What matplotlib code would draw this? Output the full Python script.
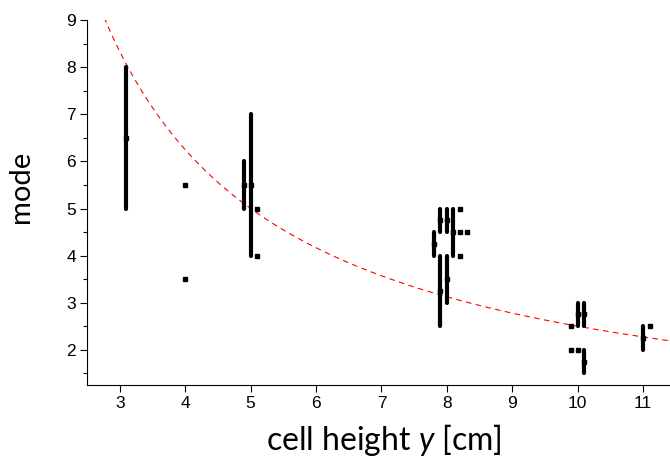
import numpy as np
import matplotlib.pyplot as plt

plt.rcParams['font.family'] = ['Liberation Sans', 'DejaVu Sans']
plt.rcParams['mathtext.fontset'] = 'custom'
plt.rcParams['mathtext.rm'] = 'Lato'
plt.rcParams['mathtext.it'] = 'Lato:italic'

# measured ranges: centre and half-width
bar_x = [3.1, 4.9, 5.0, 7.8, 7.9, 7.9, 8.0, 8.0, 8.1, 10.0, 10.1, 10.1, 11.0]
bar_y = [6.5, 5.5, 5.5, 4.25, 4.75, 3.25, 4.75, 3.5, 4.5, 2.75, 2.75, 1.75, 2.25]
bar_err = [1.5, 0.5, 1.5, 0.25, 0.25, 0.75, 0.25, 0.5, 0.5, 0.25, 0.25, 0.25, 0.25]

# single observations
pt_x = [4.0, 4.0, 5.1, 5.1, 8.2, 8.2, 8.2, 8.3, 9.9, 9.9, 10.0, 11.1]
pt_y = [5.5, 3.5, 5.0, 4.0, 5.0, 4.5, 4.0, 4.5, 2.5, 2.0, 2.0, 2.5]

# fitted curve mode = k / y
k = 25.0

fig = plt.figure(figsize=(6.7, 4.59), dpi=100)
ax = fig.add_axes([0.13, 0.161, 0.87, 0.795])

xx = np.linspace(2.5, 11.5, 300)
ax.plot(xx, k / xx, color='red', lw=0.8, dashes=(5, 4))

eb = ax.errorbar(bar_x, bar_y, yerr=bar_err, fmt='s', color='black',
                 ms=3.2, elinewidth=3, capsize=0)
for lc in eb.lines[2]:
    lc.set_capstyle('round')
ax.plot(pt_x, pt_y, 's', color='black', ms=3.5)

ax.set_xlim(2.5, 11.41)
ax.set_ylim(1.25, 9)
ax.set_xticks(range(3, 12))
ax.set_yticks(range(2, 10))
ax.set_yticks(np.arange(1.5, 9, 1.0), minor=True)

for s in ['top', 'right']:
    ax.spines[s].set_visible(False)
for s in ['left', 'bottom']:
    ax.spines[s].set_linewidth(0.8)

ax.tick_params(axis='both', which='major', direction='out', length=5,
               width=0.8, labelsize=12.5, pad=3)
ax.tick_params(axis='y', which='minor', direction='out', length=3, width=0.8)

fig.text(0.573, 9 / 459, r'cell height $\mathit{y}$ [cm]', family='Lato',
         fontsize=23, ha='center', va='baseline')
fig.text(0.031, 1 - 187 / 459, 'mode', family='Lato', fontsize=21,
         rotation=90, ha='center', va='center')

fig.savefig('out.png', dpi=100)
